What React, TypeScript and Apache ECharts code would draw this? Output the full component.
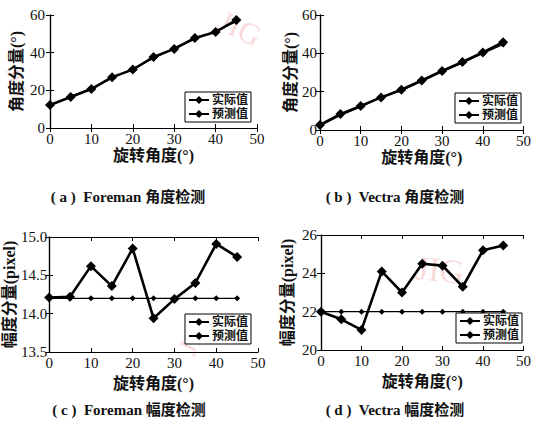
import React, { useEffect, useRef } from "react";
import * as echarts from "echarts";

const xAngles = [0, 5, 10, 15, 20, 25, 30, 35, 40, 45];
const aActual = [12.2, 16.5, 20.7, 27.0, 31.0, 37.7, 42.0, 47.8, 51.0, 57.3];
const aPred = [12.0, 16.8, 21.0, 26.5, 31.5, 37.0, 42.5, 47.2, 51.5, 56.5];
const bActual = [2.6, 8.3, 12.5, 17.0, 21.0, 25.8, 30.8, 35.5, 40.5, 45.8];
const bPred = [2.2, 7.6, 12.0, 17.2, 20.5, 25.5, 30.5, 35.0, 40.0, 44.6];
const cActual = [14.21, 14.22, 14.62, 14.36, 14.85, 13.94, 14.19, 14.4, 14.91, 14.74];
const cPred = [14.2, 14.2, 14.2, 14.2, 14.2, 14.2, 14.2, 14.2, 14.2, 14.2];
const dActual = [22.0, 21.6, 21.05, 24.1, 23.0, 24.5, 24.4, 23.3, 25.2, 25.45];
const dPred = [22, 22, 22, 22, 22, 22, 22, 22, 22, 22];

const xTicks = { min: 0, max: 50, interval: 10 };
const yRanges = [
  { min: 0, max: 60, interval: 20, decimals: 0 },
  { min: 0, max: 60, interval: 20, decimals: 0 },
  { min: 13.5, max: 15.0, interval: 0.5, decimals: 1 },
  { min: 20, max: 26, interval: 2, decimals: 0 },
];
const seriesNames = ["实际值", "预测值"];
const xName = "旋转角度(°)";
const yNames = ["角度分量(°)", "角度分量(°)", "幅度分量(pixel)", "幅度分量(pixel)"];
const captions = ["( a )  Foreman 角度检测", "( b )  Vectra 角度检测", "( c )  Foreman 幅度检测", "( d )  Vectra 幅度检测"];
const panelData = [
  [aActual, aPred],
  [bActual, bPred],
  [cActual, cPred],
  [dActual, dPred],
];

const FONT = "'Liberation Serif', 'Noto Sans CJK SC', serif";

const grids = [
  { left: 50, top: 15, width: 207, height: 113 },
  { left: 320, top: 15, width: 205, height: 115 },
  { left: 49, top: 237, width: 209, height: 115 },
  { left: 321, top: 235, width: 204, height: 115 },
];
const xNameGaps = [10, 10, 14, 14];
const yNameGaps = [26, 21, 28, 26];
const yLabelMargins = [5, 3, 2, 4];
const legendPos = [
  { left: 185, top: 92 },
  { left: 455, top: 93 },
  { left: 185, top: 314 },
  { left: 456, top: 313 },
];
const captionPos = [
  { x: 128, y: 197 },
  { x: 395, y: 197 },
  { x: 129, y: 410 },
  { x: 395, y: 410 },
];

function buildOption() {
  const xAxis: any[] = [];
  const yAxis: any[] = [];
  const series: any[] = [];
  const legend: any[] = [];
  const graphic: any[] = [];
  const tickStyle = { show: true, inside: true, length: 4, lineStyle: { color: "#000", width: 1 } };
  const lineStyle = { show: true, lineStyle: { color: "#000", width: 1.2 } };

  grids.forEach((g, i) => {
    xAxis.push({
      type: "value",
      gridIndex: i,
      position: "bottom",
      ...xTicks,
      name: xName,
      nameLocation: "middle",
      nameGap: 9 + xNameGaps[i],
      nameTextStyle: { fontFamily: FONT, fontSize: 16, fontWeight: "bold", color: "#111" },
      axisLine: lineStyle,
      axisTick: tickStyle,
      splitLine: { show: false },
      axisLabel: { fontFamily: FONT, fontSize: 15, color: "#111", margin: 3 },
    });
    const yr = yRanges[i];
    yAxis.push({
      type: "value",
      gridIndex: i,
      position: "left",
      min: yr.min,
      max: yr.max,
      interval: yr.interval,
      name: yNames[i],
      nameLocation: "middle",
      nameGap: yNameGaps[i],
      nameRotate: 90,
      nameTextStyle: { fontFamily: FONT, fontSize: 16, fontWeight: "bold", color: "#111" },
      axisLine: lineStyle,
      axisTick: tickStyle,
      splitLine: { show: false },
      axisLabel: {
        fontFamily: FONT,
        fontSize: 15,
        color: "#111",
        margin: yLabelMargins[i],
        formatter: (v: number) => v.toFixed(yr.decimals),
      },
    });
  });
  grids.forEach((g, i) => {
    xAxis.push({
      type: "value",
      gridIndex: i,
      position: "top",
      ...xTicks,
      axisLine: lineStyle,
      axisTick: tickStyle,
      axisLabel: { show: false },
      splitLine: { show: false },
    });
    const yr = yRanges[i];
    yAxis.push({
      type: "value",
      gridIndex: i,
      position: "right",
      min: yr.min,
      max: yr.max,
      interval: yr.interval,
      axisLine: lineStyle,
      axisTick: tickStyle,
      axisLabel: { show: false },
      splitLine: { show: false },
    });
  });

  panelData.forEach((pair, i) => {
    const [act, pred] = pair;
    series.push({
      name: seriesNames[1],
      type: "line",
      xAxisIndex: i,
      yAxisIndex: i,
      data: xAngles.map((x, k) => [x, pred[k]]),
      symbol: "diamond",
      symbolSize: 6,
      lineStyle: { color: "#000", width: 1.3 },
      itemStyle: { color: "#000" },
      z: 2,
    });
    series.push({
      name: seriesNames[0],
      type: "line",
      xAxisIndex: i,
      yAxisIndex: i,
      data: xAngles.map((x, k) => [x, act[k]]),
      symbol: "diamond",
      symbolSize: 10,
      lineStyle: { color: "#000", width: 2.6 },
      itemStyle: { color: "#000" },
      z: 3,
    });
    legend.push({
      ...legendPos[i],
      orient: "vertical",
      data: seriesNames,
      borderColor: "#000",
      borderWidth: 1,
      borderRadius: 0,
      backgroundColor: "#fff",
      padding: [2, 3, 2, 3],
      itemGap: 2,
      itemWidth: 20,
      itemHeight: 10,
      selectedMode: false,
      textStyle: { fontFamily: FONT, fontSize: 12, fontWeight: "bold", color: "#111", padding: [0, 0, 0, -2] },
    });
    graphic.push({
      type: "text",
      x: captionPos[i].x,
      y: captionPos[i].y,
      style: {
        text: captions[i],
        fontFamily: FONT,
        fontSize: 15,
        fontWeight: "bold",
        fill: "#111",
        align: "center",
        verticalAlign: "middle",
      },
    });
  });

  const marks = [
    { x: 240, y: 28, r: -0.45, s: 30 },
    { x: 17, y: 82, r: -1.2, s: 20 },
    { x: 195, y: 335, r: 1.1, s: 28 },
    { x: 440, y: 270, r: -0.1, s: 34 },
  ];
  marks.forEach((m) => {
    graphic.push({
      type: "text",
      x: m.x,
      y: m.y,
      rotation: m.r,
      z: -1,
      silent: true,
      style: {
        text: "JIG",
        fontFamily: "'Liberation Serif', serif",
        fontSize: m.s,
        fill: "rgba(235,120,120,0.28)",
        align: "center",
        verticalAlign: "middle",
      },
    });
  });

  return {
    animation: false,
    backgroundColor: "#fff",
    grid: grids.map((g) => ({ ...g, show: false, containLabel: false })),
    xAxis,
    yAxis,
    series,
    legend,
    graphic,
  };
}

export default function App() {
  const ref = useRef<HTMLDivElement>(null);
  useEffect(() => {
    if (!ref.current) return;
    const chart = echarts.init(ref.current, undefined, { renderer: "svg" });
    chart.setOption(buildOption() as any);
    return () => chart.dispose();
  }, []);
  return (
    <div style={{ position: "fixed", left: 0, top: 0, width: 534, height: 429, background: "#fff" }}>
      <div ref={ref} style={{ width: 534, height: 429 }} />
    </div>
  );
}
